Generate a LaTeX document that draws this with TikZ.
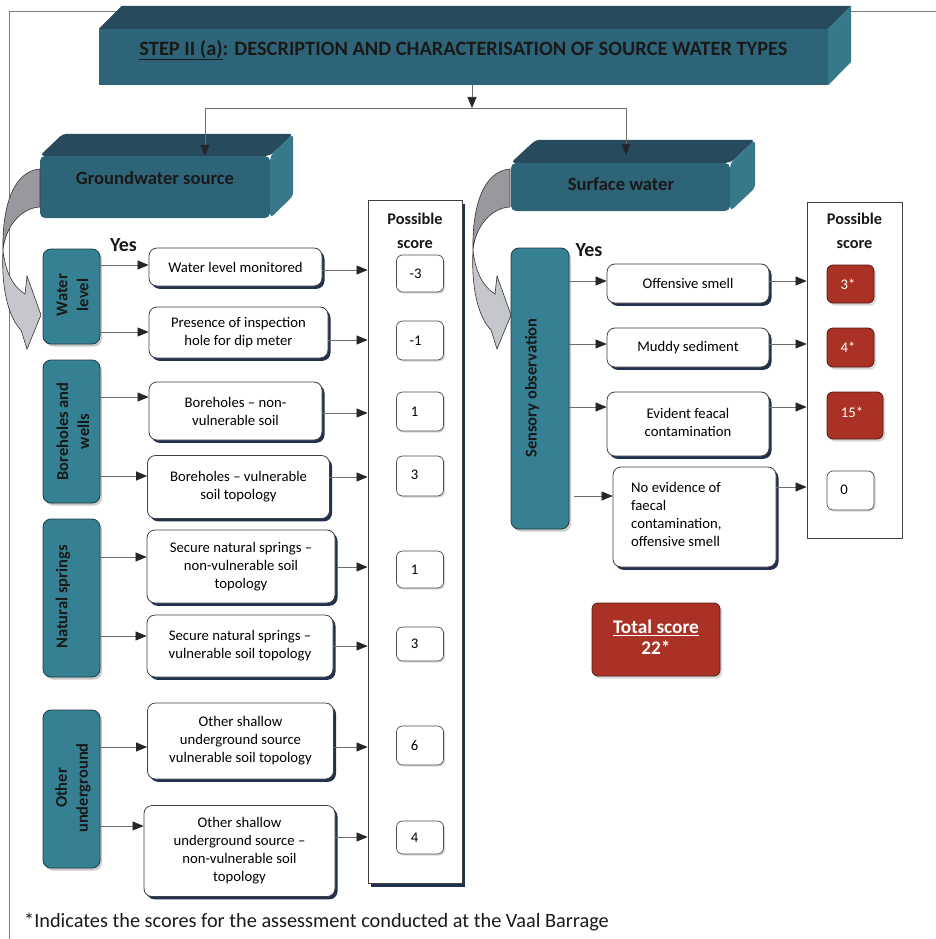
\documentclass[tikz,border=0pt]{standalone}
\usepackage{fontspec}
\setmainfont{Carlito}
\usetikzlibrary{arrows.meta,shadows,calc}
\definecolor{tealcat}{RGB}{53,129,147}
\definecolor{tealedge}{RGB}{30,60,70}
\definecolor{boxfront}{RGB}{46,100,120}
\definecolor{boxtop}{RGB}{39,74,92}
\definecolor{boxside}{RGB}{55,120,138}
\definecolor{scorered}{RGB}{170,50,37}
\definecolor{rededge}{RGB}{80,25,18}
\definecolor{navyshade}{RGB}{32,48,78}
\definecolor{linegray}{RGB}{110,110,110}
\definecolor{framegray}{RGB}{125,125,125}
\definecolor{arrowdark}{RGB}{152,152,158}
\definecolor{arrowlight}{RGB}{198,199,205}
% nudge a score a little to the left of its box centre
\newcommand\sctxt[2][9pt]{\hspace*{-#1}#2}

\begin{document}
\begin{tikzpicture}[x=1pt,y=-1pt,
  conn/.style={draw=linegray, line width=0.7pt, -{Triangle[length=11pt,width=9pt,color=black!85]}},
  plainline/.style={draw=linegray, line width=0.7pt},
  midbox/.style={draw=black!75, line width=0.8pt, fill=white, rounded corners=8pt,
    align=center, inner sep=2pt, font=\fontsize{14.7}{18}\selectfont,
    drop shadow={shadow xshift=2.5pt, shadow yshift=-2.8pt, fill=navyshade, opacity=1}},
  catbox/.style={draw=tealedge, line width=0.8pt, fill=tealcat, rounded corners=8pt,
    inner sep=0pt, minimum width=57pt,
    drop shadow={shadow xshift=2pt, shadow yshift=-2.5pt, fill=black!35, opacity=0.6}},
  cattext/.style={rotate=90, align=center, font=\fontsize{16.5}{21}\selectfont\bfseries, text=black!90},
  scorebox/.style={draw=black!70, line width=0.7pt, fill=white, rounded corners=6pt,
    minimum width=47pt, inner sep=0pt, font=\fontsize{14.7}{16}\selectfont,
    drop shadow={shadow xshift=1.5pt, shadow yshift=-1.5pt, fill=black!25, opacity=0.6}},
  redbox/.style={draw=rededge, line width=0.8pt, fill=scorered, rounded corners=6pt,
    inner sep=0pt, text=white, font=\fontsize{14.7}{16}\selectfont,
    drop shadow={shadow xshift=2pt, shadow yshift=-2.5pt, fill=black!30, opacity=0.5}},
  colbox/.style={draw=black!75, line width=0.8pt, fill=white, inner sep=0pt},
  headtext/.style={font=\fontsize{16.3}{24}\selectfont\bfseries, align=center, text=black!90},
  yestext/.style={font=\fontsize{20}{22}\selectfont\bfseries, text=black!90},
  bigbox/.style={fill=boxfront, inner sep=0pt},
  bigtext/.style={font=\fontsize{18.6}{22}\selectfont\bfseries, text=black!90},
]
\useasboundingbox (0,0) rectangle (936,939);

% page frame
\draw[framegray, line width=1pt] (9,939) -- (9,12) -- (936,12);

% ---------- heading block ----------
\node[bigbox, minimum width=729pt, minimum height=56pt] (title) at (463.5,57) {};
\fill[boxtop] (title.north west) -- ++(23,-23) -- ($(title.north east)+(23,-23)$) -- (title.north east) -- cycle;
\fill[boxside] (title.north east) -- ++(23,-23) -- ++(0,56) -- (title.south east) -- cycle;
\node[font=\fontsize{20.4}{24}\selectfont\bfseries, text=black!90] (titletext) at (463.5,50)
  {\underline{STEP II (a)}: DESCRIPTION AND CHARACTERISATION OF SOURCE WATER TYPES};

% ---------- groundwater block ----------
\node[bigbox, rounded corners=5pt, minimum width=230pt, minimum height=62pt] (gw) at (155,187) {};
\fill[boxtop, rounded corners=4pt] (gw.north west) -- ++(23,-22) -- ($(gw.north east)+(23,-22)$) -- (gw.north east) -- cycle;
\fill[boxside, rounded corners=4pt] (gw.north east) -- ++(23,-22) -- ++(0,62) -- (gw.south east) -- cycle;
\node[bigtext] (gwtext) at (155,178) {Groundwater source};

% ---------- surface water block ----------
\node[bigbox, rounded corners=5pt, minimum width=219pt, minimum height=48pt] (sw) at (620.5,187) {};
\fill[boxtop, rounded corners=4pt] (sw.north west) -- ++(25,-23) -- ($(sw.north east)+(25,-23)$) -- (sw.north east) -- cycle;
\fill[boxside, rounded corners=4pt] (sw.north east) -- ++(25,-23) -- ++(0,48) -- (sw.south east) -- cycle;
\node[bigtext] (swtext) at (621,184) {Surface water};

% branching connector
\coordinate (split) at (472,108);
\coordinate (gwsplit) at (205,108);
\coordinate (swsplit) at (626,108);
\draw[conn] (title.south -| split) -- (split);
\draw[plainline] (gwsplit) -- (swsplit);
\draw[conn] (gwsplit) -- (gwsplit |- gw.north);
\draw[conn] (swsplit) -- ($(swsplit |- sw.north)+(0,-8)$);

% curved grey arrows
\foreach \dx in {0,470}{
  \begin{scope}[xshift=\dx pt]
    \path[fill=arrowlight, draw=black!80, line width=0.6pt]
      (3,250) .. controls (1,290) and (9,318) .. (21,330) -- (27,349) -- (41,315) -- (27,276)
      -- (25,294) .. controls (12,286) and (5,270) .. (3,250) -- cycle;
    \path[fill=arrowdark, draw=black!80, line width=0.6pt]
      (40,169) .. controls (14,171) and (2,205) .. (3,250)
      .. controls (5,228) and (20,208) .. (40,207) -- cycle;
  \end{scope}
}

% ---------- groundwater categories ----------
\node[catbox, minimum height=95pt] (wl) at (71.5,296.5) {};
\node[cattext] (wltext) at (72.5,295) {Water\\level};
\node[catbox, minimum height=143pt] (bw) at (71.5,431.5) {};
\node[cattext] (bwtext) at (73,431.5) {Boreholes and\\wells};
\node[catbox, minimum height=158pt] (ns) at (71.5,598) {};
\node[cattext] (nstext) at (63,597) {Natural springs};
\node[catbox, minimum height=158pt] (ou) at (71.5,789) {};
\node[cattext] (outext) at (73,788) {Other\\underground};

\node[yestext] (yesl) at (123.5,245) {Yes};

% ---------- groundwater conditions ----------
\node[midbox, minimum width=173pt, minimum height=38pt] (wlm) at (235.5,267) {Water level monitored};
\node[midbox, minimum width=179pt, minimum height=51pt] (pih) at (238.5,332.5) {Presence of inspection\\hole for dip meter};
\node[midbox, minimum width=173pt, minimum height=58pt] (bnv) at (235.5,411) {Boreholes -- non-\\vulnerable soil};
\node[midbox, minimum width=182pt, minimum height=63pt] (bv) at (238.5,487) {Boreholes -- vulnerable\\soil topology};
\node[midbox, minimum width=188pt, minimum height=73pt] (snn) at (241,566.5) {Secure natural springs --\\non-vulnerable soil\\topology};
\node[midbox, minimum width=186pt, minimum height=62pt] (snv) at (240,646) {Secure natural springs --\\vulnerable soil topology};
\node[midbox, minimum width=186pt, minimum height=76pt] (osv) at (240.5,741) {Other shallow\\underground source\\vulnerable soil topology};
\node[midbox, minimum width=191pt, minimum height=91pt] (osn) at (239.5,851) {Other shallow\\underground source --\\non-vulnerable soil\\topology};

% ---------- groundwater scores ----------
\node[colbox, minimum width=94pt, minimum height=683pt,
  drop shadow={shadow xshift=3pt, shadow yshift=-3.5pt, fill=navyshade, opacity=1}] (lcol) at (415,541.5) {};
\node[headtext] (lhead) at (415,231) {Possible\\score};
\node[scorebox, minimum height=37pt] (l1) at (420,273.5) {\sctxt{-3}};
\node[scorebox, minimum height=39pt] (l2) at (420,340.5) {\sctxt{-1}};
\node[scorebox, minimum height=39pt] (l3) at (420,411.5) {\sctxt[11pt]{1}};
\node[scorebox, minimum height=40pt] (l4) at (420,476) {\raisebox{2pt}{\sctxt[11pt]{3}}};
\node[scorebox, minimum height=37pt] (l5) at (420,569.5) {\sctxt[11pt]{1}};
\node[scorebox, minimum height=34pt] (l6) at (420,644) {\sctxt[11pt]{3}};
\node[scorebox, minimum height=39pt] (l7) at (420,745.5) {\sctxt[11pt]{6}};
\node[scorebox, minimum height=33pt] (l8) at (420,837.5) {\sctxt[11pt]{4}};

% category -> condition
\draw[conn] (wl.east |- 0,265) -- (wlm.west |- 0,265);
\draw[conn] (wl.east |- 0,332) -- (pih.west |- 0,332);
\draw[conn] (bw.east |- 0,397) -- (bnv.west |- 0,397);
\draw[conn] (bw.east |- 0,476) -- (bv.west |- 0,476);
\draw[conn] (ns.east |- 0,557) -- (snn.west |- 0,557);
\draw[conn] (ns.east |- 0,636) -- (snv.west |- 0,636);
\draw[conn] (ou.east |- 0,747) -- (osv.west |- 0,747);
\draw[conn] (ou.east |- 0,826) -- (osn.west |- 0,826);
% condition -> score column
\draw[conn] (wlm.east |- 0,270) -- (lcol.west |- 0,270);
\draw[conn] (pih.east |- 0,340) -- (lcol.west |- 0,340);
\draw[conn] (bnv.east |- 0,413) -- (lcol.west |- 0,413);
\draw[conn] (bv.east |- 0,477) -- (lcol.west |- 0,477);
\draw[conn] ([xshift=3pt]snn.east |- 0,567) -- (lcol.west |- 0,567);
\draw[conn] (snv.east |- 0,646) -- (lcol.west |- 0,646);
\draw[conn] (osv.east |- 0,747) -- (lcol.west |- 0,747);
\draw[conn] (osn.east |- 0,837) -- (lcol.west |- 0,837);

% ---------- surface water ----------
\node[catbox, minimum width=58pt, minimum height=281pt] (so) at (540,388.5) {};
\node[cattext] (sotext) at (532,388) {Sensory observation};
\node[yestext] (yesr) at (589,250) {Yes};

\node[midbox, minimum width=162pt, minimum height=39pt] (os) at (688,283.5) {Offensive smell};
\node[midbox, minimum width=162pt, minimum height=39pt] (ms) at (688,347.5) {Muddy sediment};
\node[midbox, minimum width=162pt, minimum height=64pt] (ef) at (688,424) {\raisebox{6pt}{\begin{tabular}{@{}c@{}}Evident feacal\\contamination\end{tabular}}};
\node[midbox, minimum width=163pt, minimum height=100pt] (ne) at (694.5,517) {};
\node[anchor=west, align=left, inner sep=0pt, font=\fontsize{14.7}{18}\selectfont] (netext) at (631,514)
  {No evidence of\\faecal\\contamination,\\offensive smell};

\node[colbox, minimum width=95pt, minimum height=336pt] (rcol) at (854.5,370) {};
\node[headtext] (rhead) at (854.5,231) {Possible\\score};
\node[redbox, minimum width=47pt, minimum height=38pt] (r1) at (850.5,284) {\sctxt[5pt]{3*}};
\node[redbox, minimum width=47pt, minimum height=39pt] (r2) at (850.5,347.5) {\sctxt[5pt]{4*}};
\node[redbox, minimum width=56pt, minimum height=47pt] (r3) at (855,415.5) {\raisebox{6pt}{\sctxt[6pt]{15*}}};
\node[scorebox, minimum height=39pt] (r4) at (850.5,490.5) {\raisebox{2pt}{\sctxt[13pt]{0}}};

\draw[conn] (so.east |- 0,281) -- (os.west |- 0,281);
\draw[conn] (so.east |- 0,344) -- (ms.west |- 0,344);
\draw[conn] (so.east |- 0,407) -- (ef.west |- 0,407);
\draw[conn] ([xshift=5pt]so.east |- 0,496) -- (ne.west |- 0,496);
\draw[conn] (os.east |- 0,281) -- (rcol.west |- 0,281);
\draw[conn] (ms.east |- 0,344) -- (rcol.west |- 0,344);
\draw[conn] (ef.east |- 0,407) -- (rcol.west |- 0,407);
\draw[conn] (ne.east |- 0,487) -- (rcol.west |- 0,487);

\node[redbox, minimum width=128pt, minimum height=73pt, align=center,
  font=\fontsize{19.3}{21}\selectfont\bfseries] (total) at (656,639.5)
  {\raisebox{3pt}{\begin{tabular}{@{}c@{}}\underline{Total score}\\22*\end{tabular}}};

% footnote
\node[anchor=west, inner sep=0pt, font=\fontsize{20.3}{22}\selectfont, text=black!90] (note) at (24,922)
  {*Indicates the scores for the assessment conducted at the Vaal Barrage};
\end{tikzpicture}
\end{document}
